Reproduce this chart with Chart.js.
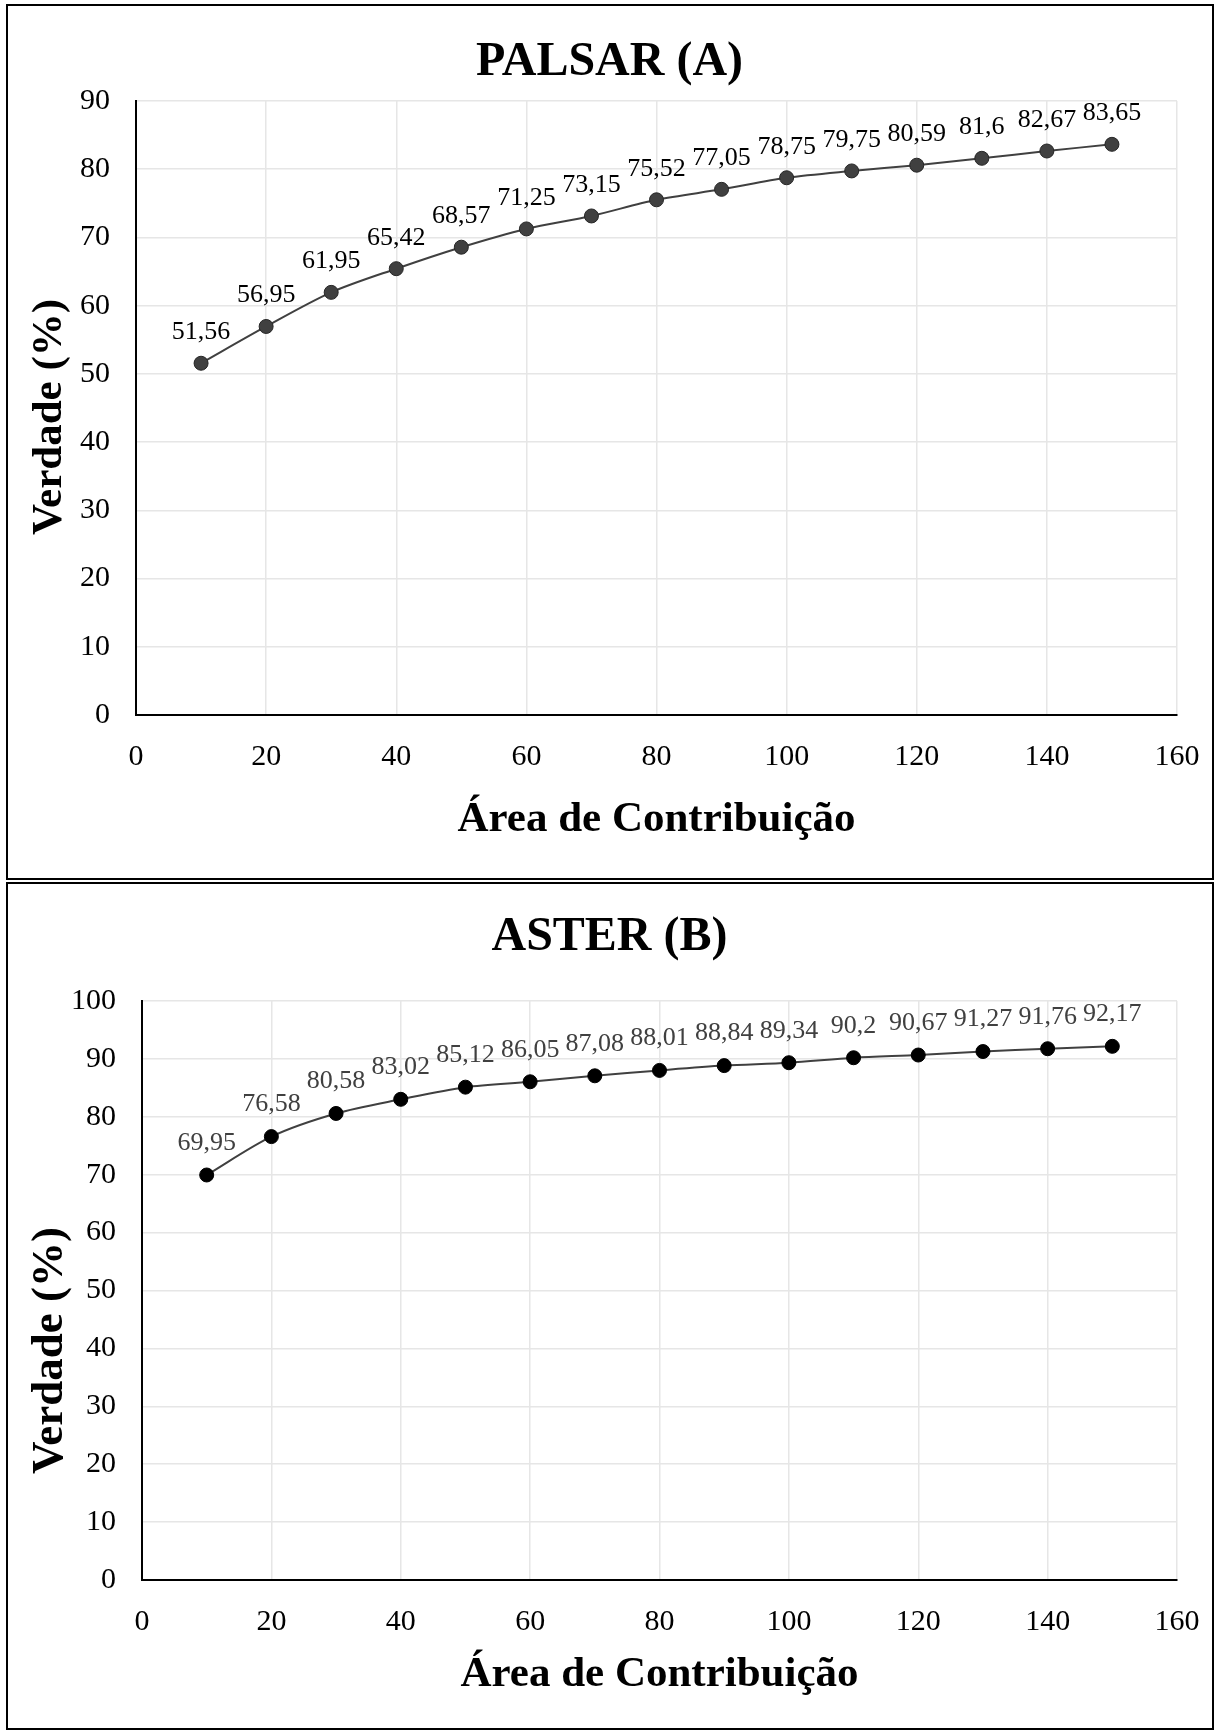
<!DOCTYPE html>
<html>
<head>
<meta charset="utf-8">
<script src="https://cdn.jsdelivr.net/npm/chart.js@4.4.1/dist/chart.umd.min.js"></script>
<style>
  html, body { margin: 0; padding: 0; background: #fff; }
  body { width: 1219px; height: 1731px; position: relative; overflow: hidden; }
  canvas { position: absolute; left: 0; }
  .frame { position: absolute; border: 2px solid #000; box-sizing: border-box; pointer-events: none; }
</style>
</head>
<body>
<canvas id="c1" width="1219" height="880" style="top:0px"></canvas>
<canvas id="c2" width="1219" height="850" style="top:881px"></canvas>
<div class="frame" style="left:6px; top:4px; width:1208px; height:876px;"></div>
<div class="frame" style="left:6px; top:882px; width:1208px; height:848px;"></div>
<script>
// ---- data ----
const areaContribuicao = [10, 20, 30, 40, 50, 60, 70, 80, 90, 100, 110, 120, 130, 140, 150];
const palsarVerdade = [51.56, 56.95, 61.95, 65.42, 68.57, 71.25, 73.15, 75.52, 77.05, 78.75, 79.75, 80.59, 81.6, 82.67, 83.65];
const asterVerdade = [69.95, 76.58, 80.58, 83.02, 85.12, 86.05, 87.08, 88.01, 88.84, 89.34, 90.2, 90.67, 91.27, 91.76, 92.17];
const xTicks = [0, 20, 40, 60, 80, 100, 120, 140, 160];
const palsarYTicks = [0, 10, 20, 30, 40, 50, 60, 70, 80, 90];
const asterYTicks = [0, 10, 20, 30, 40, 50, 60, 70, 80, 90, 100];
const titles = ['PALSAR (A)', 'ASTER (B)'];
const xTitle = 'Área de Contribuição';
const yTitle = 'Verdade (%)';

const FONT = '"Liberation Serif", "Times New Roman", serif';

const valueLabels = {
  id: 'valueLabels',
  afterDatasetsDraw(chart, args, opts) {
    const ctx = chart.ctx;
    const meta = chart.getDatasetMeta(0);
    const ds = chart.data.datasets[0];
    ctx.save();
    ctx.font = '26px ' + FONT;
    ctx.fillStyle = opts.color;
    ctx.textAlign = 'center';
    ctx.textBaseline = 'middle';
    meta.data.forEach((pt, i) => {
      const v = ds.data[i].y;
      ctx.fillText(String(v).replace('.', ','), pt.x, pt.y - opts.offset);
    });
    ctx.restore();
  }
};

// y-axis title drawn beside the y scale, shifted vertically like the reference
const yAxisTitle = {
  id: 'yAxisTitle',
  afterDraw(chart, args, opts) {
    const ctx = chart.ctx;
    const area = chart.chartArea;
    ctx.save();
    ctx.translate(opts.x, (area.top + area.bottom) / 2 + opts.shift);
    ctx.rotate(-Math.PI / 2);
    ctx.font = 'bold ' + opts.size + 'px ' + FONT;
    ctx.fillStyle = '#000';
    ctx.textAlign = 'center';
    ctx.textBaseline = 'middle';
    ctx.fillText(opts.text, 0, 0);
    ctx.restore();
  }
};

function makeChart(id, title, values, yTicks, cfg) {
  const yMax = yTicks[yTicks.length - 1];
  return new Chart(document.getElementById(id), {
    type: 'line',
    data: {
      datasets: [{
        data: areaContribuicao.map((x, i) => ({ x: x, y: values[i] })),
        borderColor: '#404040',
        borderWidth: 2,
        backgroundColor: cfg.pointFill,
        pointBackgroundColor: cfg.pointFill,
        pointBorderColor: cfg.pointBorder,
        pointBorderWidth: 1,
        pointRadius: 7,
        tension: 0.3,
        fill: false
      }]
    },
    options: {
      responsive: false,
      animation: false,
      devicePixelRatio: 1,
      layout: { padding: 0 },
      plugins: {
        legend: { display: false },
        tooltip: { enabled: false },
        title: {
          display: true,
          text: title,
          color: '#000',
          font: { family: FONT, size: 48, weight: 'bold', lineHeight: 1.2 },
          padding: { top: cfg.titleTop, bottom: cfg.titleBottom }
        },
        valueLabels: { color: cfg.labelColor, offset: cfg.labelOffset },
        yAxisTitle: { text: yTitle, x: 50, size: cfg.yTitleSize, shift: cfg.yTitleShift }
      },
      scales: {
        x: {
          type: 'linear',
          min: 0, max: 160,
          afterBuildTicks: (s) => { s.ticks = xTicks.map(v => ({ value: v })); },
          afterFit: (s) => { s.height = cfg.xHeight; },
          grid: { color: '#e6e6e6', lineWidth: 1.5, drawTicks: true, tickLength: 22, tickColor: 'rgba(0,0,0,0)' },
          border: { color: '#000', width: 2 },
          ticks: { color: '#000', font: { family: FONT, size: 30 }, padding: 2, maxRotation: 0 },
          title: {
            display: true, text: xTitle, color: '#000',
            font: { family: FONT, size: 43, weight: 'bold', lineHeight: 1.2 },
            padding: { top: 0, bottom: cfg.xTitleBottom }
          }
        },
        y: {
          type: 'linear',
          min: 0, max: yMax,
          afterBuildTicks: (s) => { s.ticks = yTicks.map(v => ({ value: v })); },
          afterFit: (s) => { s.width = cfg.yWidth; },
          grid: { color: '#e6e6e6', lineWidth: 1.5, drawTicks: false },
          border: { color: '#000', width: 2 },
          ticks: { color: '#000', font: { family: FONT, size: 30 }, padding: 26 },
          title: { display: false }
        },
        rightSpace: {
          type: 'linear',
          position: 'right',
          min: 0, max: yMax,
          afterFit: (s) => { s.width = 42; },
          grid: { display: false, drawOnChartArea: false },
          border: { display: false },
          ticks: { display: false },
          title: { display: false }
        }
      }
    },
    plugins: [valueLabels, yAxisTitle]
  });
}

makeChart('c1', titles[0], palsarVerdade, palsarYTicks, {
  pointFill: '#404040', pointBorder: '#262626', labelColor: '#000', labelOffset: 31,
  titleTop: 34, titleBottom: 9.4, xHeight: 165, xTitleBottom: 34, yWidth: 136,
  yTitleSize: 43, yTitleShift: 9
});
makeChart('c2', titles[1], asterVerdade, asterYTicks, {
  pointFill: '#000', pointBorder: '#000', labelColor: '#404040', labelOffset: 32,
  titleTop: 28, titleBottom: 34.4, xHeight: 151, xTitleBottom: 30, yWidth: 142,
  yTitleSize: 45, yTitleShift: 60
});
</script>
</body>
</html>
